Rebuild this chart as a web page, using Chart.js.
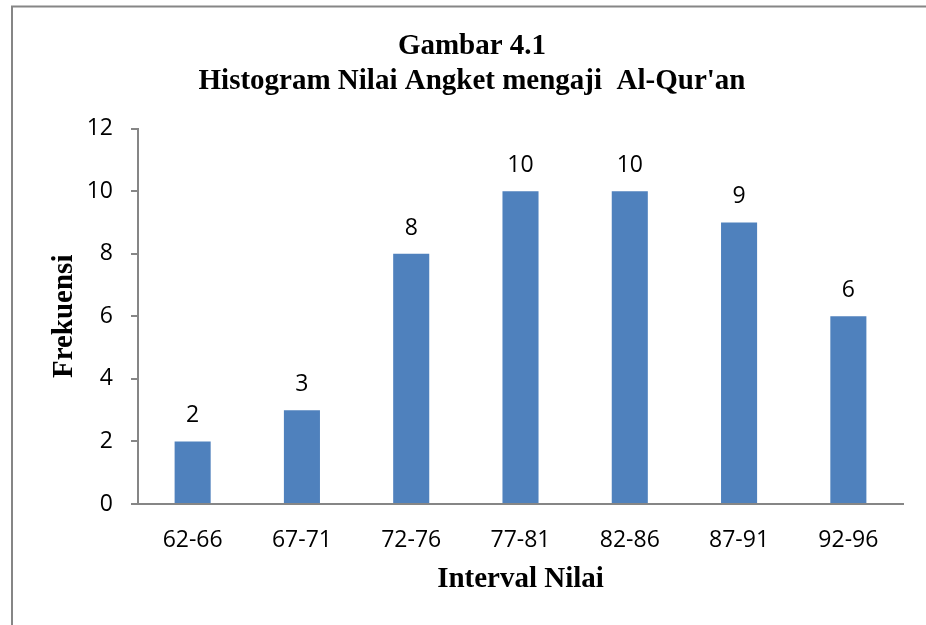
<!DOCTYPE html>
<html>
<head>
<meta charset="utf-8">
<script src="https://cdn.jsdelivr.net/npm/chart.js@4"></script>
<style>
  html, body { margin: 0; padding: 0; background: #fff; }
  #wrap { width: 926px; height: 625px; }
</style>
</head>
<body>
<div id="wrap"><canvas id="chart-hist" width="926" height="625"></canvas></div>
<script>
// Data histogram
const intervals = ['62-66', '67-71', '72-76', '77-81', '82-86', '87-91', '92-96'];
const frekuensi = [2, 3, 8, 10, 10, 9, 6];
const titleLines = ['Gambar 4.1', "Histogram Nilai Angket mengaji  Al-Qur'an"];
const xTitle = 'Interval Nilai';
const yTitle = 'Frekuensi';

const axisGray = '#868686';
const tickFont = { family: "'Open Sans', sans-serif", size: 23 };
const serifBold = { family: "'Liberation Serif', 'Times New Roman', serif", size: 29, weight: 'bold' };

// Bingkai abu-abu di kiri dan atas
const frame = {
  id: 'frame',
  beforeDraw(chart) {
    const ctx = chart.ctx;
    ctx.save();
    ctx.strokeStyle = axisGray;
    ctx.lineWidth = 2;
    ctx.beginPath();
    ctx.moveTo(12, 625);
    ctx.lineTo(12, 6.5);
    ctx.lineTo(926, 6.5);
    ctx.stroke();
    ctx.restore();
  }
};

// Label nilai di atas batang
const valueLabels = {
  id: 'valueLabels',
  afterDatasetsDraw(chart) {
    const ctx = chart.ctx;
    const meta = chart.getDatasetMeta(0);
    ctx.save();
    ctx.font = "23px 'Open Sans', sans-serif";
    ctx.fillStyle = '#000';
    ctx.textAlign = 'center';
    ctx.textBaseline = 'alphabetic';
    meta.data.forEach((bar, i) => {
      ctx.fillText(String(frekuensi[i]), bar.x, bar.y - 19);
    });
    ctx.restore();
  }
};

new Chart(document.getElementById('chart-hist'), {
  type: 'bar',
  data: {
    labels: intervals,
    datasets: [{
      label: yTitle,
      data: frekuensi,
      backgroundColor: '#4F81BD',
      borderWidth: 0,
      categoryPercentage: 1,
      barPercentage: 0.33
    }]
  },
  options: {
    responsive: false,
    animation: false,
    devicePixelRatio: 1,
    layout: { padding: { left: 41, right: 23, top: 0, bottom: 28 } },
    plugins: {
      legend: { display: false },
      tooltip: { enabled: false },
      title: {
        display: true,
        text: titleLines,
        color: '#000',
        font: serifBold,
        padding: { top: 29, bottom: 30 }
      }
    },
    scales: {
      x: {
        grid: { drawOnChartArea: false, drawTicks: false },
        border: { color: axisGray, width: 2 },
        ticks: { color: '#000', font: tickFont, padding: 23, maxRotation: 0 },
        title: { display: true, text: xTitle, color: '#000', font: serifBold, padding: { top: 0, bottom: 0 } },
        afterFit: s => { s.height = 93; }
      },
      y: {
        min: 0,
        max: 12,
        grid: { drawOnChartArea: false, drawTicks: true, tickLength: 7, color: axisGray, lineWidth: 2 },
        border: { color: axisGray, width: 2 },
        ticks: { stepSize: 2, color: '#000', font: tickFont, padding: 18 },
        title: { display: true, text: yTitle, color: '#000', font: serifBold, padding: { top: 6, bottom: 0 } },
        afterFit: s => { s.width = 97; }
      }
    }
  },
  plugins: [frame, valueLabels]
});
</script>
</body>
</html>
